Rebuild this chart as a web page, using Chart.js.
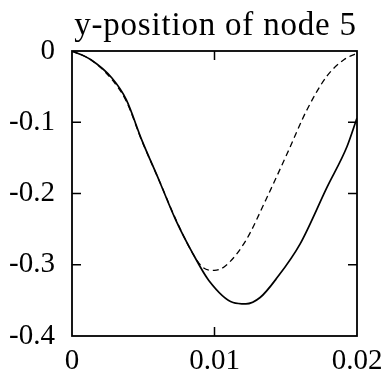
<!DOCTYPE html>
<html>
<head>
<meta charset="utf-8">
<script src="https://cdn.jsdelivr.net/npm/chart.js@4/dist/chart.umd.min.js"></script>
<style>
  html, body { margin: 0; padding: 0; background: #fff; }
  #wrap { width: 388px; height: 385px; }
</style>
</head>
<body>
<div id="wrap"><canvas id="nodeChart" width="388" height="385"></canvas></div>
<script>
// ==========================
// DATA
// ==========================

// time (s) and y-position of node 5
const solidT = [0, 0.0013, 0.0028, 0.0038, 0.0049, 0.0061, 0.0073, 0.0085, 0.0096,
                0.0113, 0.0122, 0.0132, 0.0144, 0.0160, 0.0179, 0.0193, 0.0200];
const solidY = [0, -0.012, -0.038, -0.068, -0.125, -0.181, -0.238, -0.285, -0.322,
                -0.353, -0.355, -0.346, -0.318, -0.271, -0.191, -0.134, -0.094];

const dashT = [0, 0.0013, 0.0028, 0.0038, 0.0049, 0.0061, 0.0073, 0.0085, 0.0092,
               0.0100, 0.0108, 0.0122, 0.0136, 0.0151, 0.0165, 0.0179, 0.0191, 0.0200];
const dashY = [0, -0.012, -0.040, -0.070, -0.126, -0.181, -0.237, -0.285, -0.304,
               -0.308, -0.301, -0.266, -0.209, -0.144, -0.082, -0.035, -0.012, -0.003];

const xTicks = [0, 0.01, 0.02];
const xTickLabels = ["0", "0.01", "0.02"];
const yTicks = [0, -0.1, -0.2, -0.3, -0.4];
const yTickLabels = ["0", "-0.1", "-0.2", "-0.3", "-0.4"];

const titleText = "y-position of node 5";

const serif = "'Liberation Serif', 'DejaVu Serif', serif";

function toPoints(ts, ys) {
    return ts.map((t, i) => ({ x: t, y: ys[i] }));
}

// ==========================
// FRAME, INWARD TICKS, TITLE
// ==========================

const framePlugin = {
    id: "frame",
    afterDatasetsDraw(chart) {
        const ctx = chart.ctx;
        const a = chart.chartArea;
        const xs = chart.scales.x;
        const ys = chart.scales.y;
        const len = 9;

        ctx.save();
        ctx.strokeStyle = "#000";
        ctx.lineWidth = 1.8;
        ctx.strokeRect(a.left, a.top, a.right - a.left, a.bottom - a.top);

        ctx.lineWidth = 1.5;
        ctx.beginPath();
        xTicks.slice(1, -1).forEach(v => {
            const px = xs.getPixelForValue(v);
            ctx.moveTo(px, a.bottom);
            ctx.lineTo(px, a.bottom - len);
            ctx.moveTo(px, a.top);
            ctx.lineTo(px, a.top + len);
        });
        yTicks.slice(1, -1).forEach(v => {
            const py = ys.getPixelForValue(v);
            ctx.moveTo(a.left, py);
            ctx.lineTo(a.left + len, py);
            ctx.moveTo(a.right, py);
            ctx.lineTo(a.right - len, py);
        });
        ctx.stroke();

        // title centred over the plot box
        ctx.fillStyle = "#000";
        ctx.font = "33px " + serif;
        ctx.letterSpacing = "0.8px";
        ctx.textAlign = "center";
        ctx.textBaseline = "alphabetic";
        ctx.fillText(titleText, (a.left + a.right) / 2 + 1, 35);
        ctx.restore();
    }
};

// ==========================
// CHART
// ==========================

new Chart(document.getElementById("nodeChart"), {

    type: "line",

    data: {
        datasets: [
            {
                data: toPoints(solidT, solidY),
                borderColor: "#000",
                borderWidth: 1.7,
                pointRadius: 0,
                cubicInterpolationMode: "monotone",
                fill: false
            },
            {
                data: toPoints(dashT, dashY),
                borderColor: "#000",
                borderWidth: 1.3,
                borderDash: [6, 4],
                pointRadius: 0,
                cubicInterpolationMode: "monotone",
                fill: false
            }
        ]
    },

    plugins: [framePlugin],

    options: {
        responsive: false,
        animation: false,
        layout: {
            padding: { left: 0, right: 31, top: 51, bottom: 0 }
        },
        plugins: {
            legend: { display: false },
            tooltip: { enabled: false },
            title: { display: false }
        },
        scales: {
            x: {
                type: "linear",
                min: 0,
                max: 0.02,
                afterBuildTicks(scale) {
                    scale.ticks = xTicks.map(v => ({ value: v }));
                },
                afterFit(scale) {
                    scale.height = 49;
                },
                ticks: {
                    color: "#000",
                    font: { family: serif, size: 29 },
                    padding: 0,
                    maxRotation: 0,
                    callback: (v) => xTickLabels[xTicks.indexOf(v)]
                },
                grid: { display: false },
                border: { display: false }
            },
            y: {
                type: "linear",
                min: -0.4,
                max: 0,
                afterBuildTicks(scale) {
                    scale.ticks = yTicks.map(v => ({ value: v }));
                },
                afterFit(scale) {
                    scale.width = 72;
                },
                ticks: {
                    color: "#000",
                    font: { family: serif, size: 29 },
                    padding: 9,
                    callback: (v) => yTickLabels[yTicks.indexOf(v)]
                },
                grid: { display: false },
                border: { display: false }
            }
        }
    }
});
</script>
</body>
</html>
